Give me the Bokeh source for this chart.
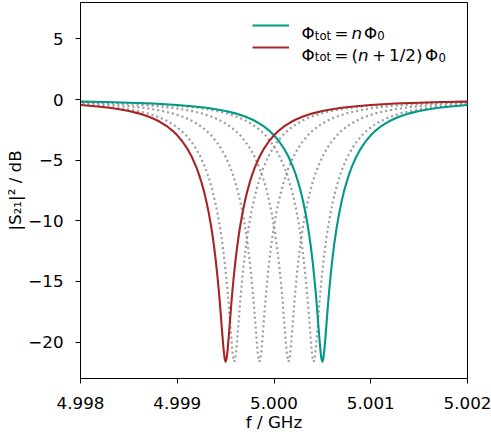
import numpy as np
from bokeh.plotting import figure
from bokeh.models import Label, Legend, LegendItem, FixedTicker, Range1d, PrintfTickFormatter
from bokeh.core.properties import value
from bokeh.embed import file_html
from bokeh.resources import INLINE

# ---- data ----
# resonance dip profile: detuning from resonance (MHz) and |S21|^2 (dB), one side (symmetric dip)
detuning_mhz = [0.0, 0.01, 0.02, 0.03, 0.04, 0.05, 0.06, 0.07, 0.085, 0.10, 0.12, 0.135, 0.15,
                0.175, 0.20, 0.225, 0.25, 0.275, 0.30, 0.35, 0.40, 0.45, 0.50, 0.55, 0.60,
                0.65, 0.70, 0.75, 0.80, 0.90, 1.00, 1.10, 1.20, 1.35, 1.50, 1.75, 2.00, 2.25, 2.50]
dip_db = [-21.62, -21.37, -20.71, -19.78, -18.76, -17.73, -16.73, -15.80, -14.53, -13.40, -12.09,
          -11.23, -10.45, -9.32, -8.36, -7.53, -6.82, -6.19, -5.64, -4.72, -4.00, -3.42, -2.95,
          -2.56, -2.24, -1.98, -1.75, -1.56, -1.40, -1.14, -0.95, -0.80, -0.68, -0.55, -0.45,
          -0.33, -0.26, -0.20, -0.17]
f_integer = 5.0005          # GHz, Phi_tot = n Phi0
f_half = 4.9995             # GHz, Phi_tot = (n+1/2) Phi0
f_intermediate = [4.99959, 4.99985, 5.00015, 5.00041]   # GHz, dotted grey curves
x_ticks = [4.998, 4.999, 5.000, 5.001, 5.002]
y_ticks = [-20, -15, -10, -5, 0, 5]
y_tick_labels = ["\u221220", "\u221215", "\u221210", "\u22125", "0", "5"]
x_label = "f / GHz"
y_label = "|S\u2082\u2081|\u00b2 / dB"

TEAL = "#009988"
RED = "#a82424"
GREY = "#9c9c9c"
FONT = "DejaVu Sans"
FS = "16.7px"
FS_SUB = "11.7px"

# full symmetric profile
det = np.array([-d for d in detuning_mhz[:0:-1]] + detuning_mhz) * 1e-3   # GHz
prof = np.array(dip_db[:0:-1] + dip_db)

p = figure(width=491, height=435, x_range=Range1d(4.998, 5.002), y_range=Range1d(-23, 8),
           output_backend="svg", toolbar_location=None,
           min_border_left=80, min_border_right=24, min_border_top=2, min_border_bottom=57)
p.grid.visible = False
p.outline_line_color = "black"
p.outline_line_width = 1
p.background_fill_color = "white"
p.border_fill_color = "white"

for ax in (p.xaxis[0], p.yaxis[0]):
    ax.major_tick_in = 0
    ax.major_tick_out = 5
    ax.minor_tick_in = 0
    ax.minor_tick_out = 0
    ax.axis_line_color = "black"
    ax.major_tick_line_color = "black"
    ax.major_label_text_font = FONT
    ax.major_label_text_font_size = FS
    ax.major_label_text_color = "black"
    ax.axis_label_text_font = FONT
    ax.axis_label_text_font_size = FS
    ax.axis_label_text_font_style = "normal"
    ax.axis_label_text_color = "black"

p.xaxis.ticker = FixedTicker(ticks=x_ticks, minor_ticks=[])
p.xaxis.formatter = PrintfTickFormatter(format="%.3f")
p.xaxis.major_label_standoff = 13
p.xaxis.axis_label = x_label
p.xaxis.axis_label_standoff = 0
p.yaxis.ticker = FixedTicker(ticks=y_ticks, minor_ticks=[])
p.yaxis.major_label_overrides = {t: l for t, l in zip(y_ticks, y_tick_labels)}
p.yaxis.major_label_standoff = 12
p.yaxis.axis_label = y_label
p.yaxis.axis_label_standoff = 0

for fc in f_intermediate:
    p.line(fc + det, prof, line_color=GREY, line_width=2.2, line_dash="2 3")
r_int = p.line(f_integer + det, prof, line_color=TEAL, line_width=2.1, line_join="round")
r_half = p.line(f_half + det, prof, line_color=RED, line_width=2.1, line_join="round")

# legend handles (labels are drawn as text pieces below)
leg = Legend(items=[LegendItem(label=value(" "), renderers=[r_int]),
                    LegendItem(label=value(" "), renderers=[r_half])],
             location=(172, 320), glyph_width=37, glyph_height=22, label_height=22,
             label_width=0, label_standoff=0, spacing=0, padding=0, margin=0,
             border_line_color=None, background_fill_alpha=0, label_text_font_size="8px")
p.add_layout(leg)

FR_L, FR_B = 80, 378   # frame left / bottom in page pixels

def piece(text, px, py, size=FS, style="normal"):
    p.add_layout(Label(x=px - FR_L, y=FR_B - py, x_units="screen", y_units="screen",
                       text=text, text_font=FONT, text_font_size=size, text_font_style=style,
                       text_color="black", text_align="left", text_baseline="alphabetic"))

# legend text
b1, b2 = 32.7, 54.5
piece("\u03a6", 301.0, b1); piece("tot", 314.3, b1 + 2.3, FS_SUB); piece("=", 333.9, b1)
piece("n", 351.1, b1, style="italic"); piece("\u03a6", 363.5, b1); piece("0", 376.8, b1 + 2.3, FS_SUB)
piece("\u03a6", 301.0, b2); piece("tot", 314.3, b2 + 2.3, FS_SUB); piece("=", 333.9, b2)
piece("(", 351.1, b2); piece("n", 357.6, b2, style="italic"); piece("+", 371.4, b2)
piece("1/2)", 388.6, b2); piece("\u03a6", 424.6, b2); piece("0", 437.9, b2 + 2.3, FS_SUB)

open("out.html", "w").write(file_html(p, INLINE))
